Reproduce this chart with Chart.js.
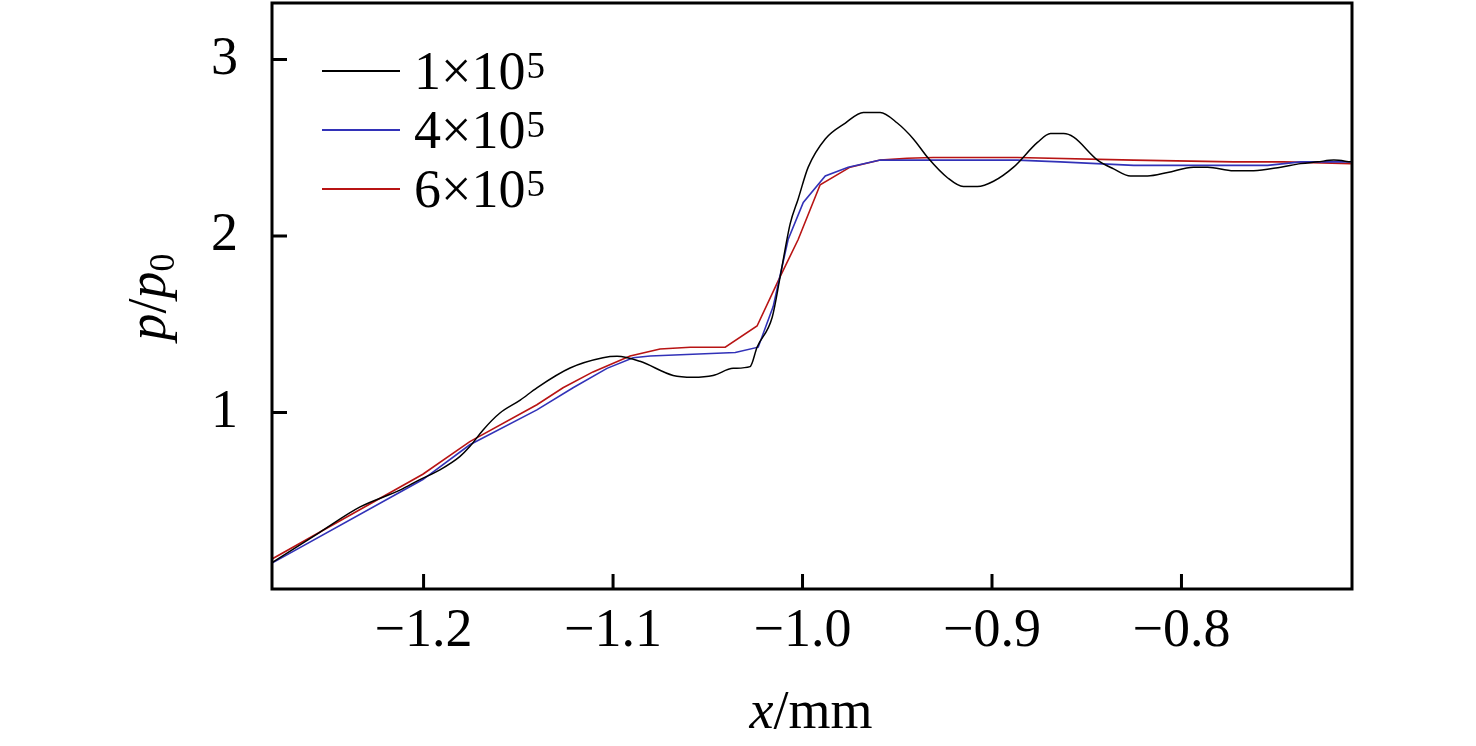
<!DOCTYPE html>
<html>
<head>
<meta charset="utf-8">
<script src="https://cdn.jsdelivr.net/npm/chart.js@4/dist/chart.umd.min.js"></script>
<style>
  html, body { margin: 0; padding: 0; background: #fff; }
  canvas { display: block; }
</style>
</head>
<body>
<canvas id="chart" width="1476" height="746"></canvas>
<script>
// ================================================
// PRESSURE PROFILE p/p0 vs x - three grid sizes
// ================================================

// series 1x10^5 (black)
const blackX = [-1.28, -1.255, -1.2335, -1.2125, -1.2022, -1.1914, -1.1809, -1.1756, -1.1687, -1.1597,
    -1.149, -1.1402, -1.1227, -1.1053,
    -1.0979, -1.0858, -1.0683, -1.0578, -1.0472, -1.0366, -1.0277, -1.0240, -1.0160, -1.0118,
    -1.0065, -1.0023, -0.9970, -0.9880, -0.9774, -0.9679, -0.9590, -0.9500, -0.9415, -0.9336,
    -0.9235, -0.9151, -0.9077, -0.8992, -0.8886, -0.8760, -0.8691, -0.8622, -0.8569, -0.8443,
    -0.8358, -0.8269, -0.8179, -0.8073, -0.7936, -0.7862, -0.7725, -0.7619, -0.7476, -0.7371,
    -0.7281, -0.7196, -0.7106];
const blackY = [0.15, 0.32, 0.465, 0.56, 0.618, 0.675, 0.75, 0.807, 0.90, 0.997,
    1.07, 1.14, 1.252, 1.31,
    1.318, 1.29, 1.21, 1.20, 1.21, 1.25, 1.26, 1.37, 1.54, 1.77,
    2.07, 2.21, 2.39, 2.55, 2.64, 2.70, 2.70, 2.64, 2.55, 2.44,
    2.33, 2.28, 2.28, 2.31, 2.39, 2.53, 2.58, 2.58, 2.56, 2.43,
    2.38, 2.34, 2.34, 2.36, 2.39, 2.39, 2.37, 2.37, 2.39, 2.41,
    2.42, 2.43, 2.42];

// series 4x10^5 (blue)
const blueX = [-1.28, -1.2004, -1.1756, -1.1402, -1.1211, -1.1032, -1.0894, -1.0804, -1.0355, -1.0234,
    -1.0155, -1.0076, -0.9996, -0.9880, -0.9759, -0.9590, -0.9448, -0.8867, -0.8640, -0.8252,
    -0.7545, -0.7371, -0.7106];
const blueY = [0.147, 0.62, 0.817, 1.015, 1.14, 1.25, 1.31, 1.32, 1.34, 1.37,
    1.60, 1.98, 2.19, 2.34, 2.39, 2.43, 2.43, 2.43, 2.42, 2.40,
    2.40, 2.42, 2.42];

// series 6x10^5 (red)
const redX = [-1.28, -1.2004, -1.1756, -1.1402, -1.1264, -1.1106, -1.0910, -1.0752, -1.0593, -1.0408,
    -1.0240, -1.0118, -1.0023, -0.9907, -0.9749, -0.9590, -0.9448, -0.9310, -0.8867, -0.8252,
    -0.7725, -0.7461, -0.7106];
const redY = [0.17, 0.65, 0.835, 1.044, 1.14, 1.23, 1.32, 1.36, 1.37, 1.37,
    1.49, 1.77, 1.98, 2.29, 2.39, 2.43, 2.44, 2.445, 2.445, 2.43,
    2.42, 2.42, 2.41];

// legend text: base + superscript exponent
const legendBase = ['1\u00d710', '4\u00d710', '6\u00d710'];
const legendExp = ['5', '5', '5'];

// tick values
const xTicks = [-1.2, -1.1, -1.0, -0.9, -0.8];
const yTicks = [1, 2, 3];

const SERIF = "'Liberation Serif', 'DejaVu Serif', serif";

function toPoints(xs, ys) {
    return xs.map((x, i) => ({ x: x, y: ys[i] }));
}

function minusLabel(v) {
    return (v < 0 ? '\u2212' : '') + Math.abs(v).toFixed(1);
}

/**
 * DRAW MIXED-STYLE TEXT (italic / subscript / superscript), centred
 */
function drawRich(ctx, parts, x, y) {
    let total = 0;
    parts.forEach(p => {
        ctx.font = p.font;
        p.w = ctx.measureText(p.t).width;
        total += p.w;
    });
    let cx = x - total / 2;
    ctx.textAlign = 'left';
    ctx.textBaseline = 'alphabetic';
    parts.forEach(p => {
        ctx.font = p.font;
        ctx.fillText(p.t, cx, y + (p.dy || 0));
        cx += p.w;
    });
}

const framePlugin = {
    id: 'frame',
    afterDraw(chart) {
        const ctx = chart.ctx;
        const area = chart.chartArea;
        const xs = chart.scales.x;
        const ys = chart.scales.y;
        ctx.save();
        ctx.strokeStyle = '#000';
        ctx.lineWidth = 3;
        ctx.strokeRect(area.left, area.top, area.right - area.left, area.bottom - area.top);

        // inward tick marks
        ctx.beginPath();
        xs.ticks.forEach(t => {
            const px = xs.getPixelForValue(t.value);
            ctx.moveTo(px, area.bottom);
            ctx.lineTo(px, area.bottom - 15);
        });
        ys.ticks.forEach(t => {
            const py = ys.getPixelForValue(t.value);
            ctx.moveTo(area.left, py);
            ctx.lineTo(area.left + 15, py);
        });
        ctx.stroke();

        // legend
        ctx.fillStyle = '#000';
        chart.data.datasets.forEach((ds, i) => {
            const ly = 71 + i * 59;
            ctx.strokeStyle = ds.borderColor;
            ctx.lineWidth = 2;
            ctx.beginPath();
            ctx.moveTo(322, ly);
            ctx.lineTo(400, ly);
            ctx.stroke();
            ctx.textAlign = 'left';
            ctx.textBaseline = 'alphabetic';
            ctx.font = '54px ' + SERIF;
            ctx.fillText(legendBase[i], 414, ly + 18);
            const w = ctx.measureText(legendBase[i]).width;
            ctx.font = '37px ' + SERIF;
            ctx.fillText(legendExp[i], 414 + w + 1, ly + 7);
        });

        // axis titles
        drawRich(ctx, [
            { t: 'x', font: 'italic 54px ' + SERIF },
            { t: '/mm', font: '54px ' + SERIF }
        ], (area.left + area.right) / 2 - 1, 728);

        ctx.save();
        ctx.translate(165, 297);
        ctx.rotate(-Math.PI / 2);
        drawRich(ctx, [
            { t: 'p', font: 'italic 54px ' + SERIF },
            { t: '/', font: '54px ' + SERIF },
            { t: 'p', font: 'italic 54px ' + SERIF },
            { t: '0', font: '36px ' + SERIF, dy: 9 }
        ], 0, 0);
        ctx.restore();
        ctx.restore();
    }
};

function initChart() {
    const ctx = document.getElementById('chart').getContext('2d');

    new Chart(ctx, {
        type: 'line',
        data: {
            datasets: [{
                label: legendBase[0] + legendExp[0],
                data: toPoints(blackX, blackY),
                borderColor: '#000000',
                borderWidth: 1.5,
                pointRadius: 0,
                cubicInterpolationMode: 'monotone'
            }, {
                label: legendBase[1] + legendExp[1],
                data: toPoints(blueX, blueY),
                borderColor: '#3232b8',
                borderWidth: 1.6,
                pointRadius: 0,
                tension: 0
            }, {
                label: legendBase[2] + legendExp[2],
                data: toPoints(redX, redY),
                borderColor: '#b81414',
                borderWidth: 1.6,
                pointRadius: 0,
                tension: 0
            }]
        },
        options: {
            responsive: false,
            devicePixelRatio: 1,
            animation: false,
            layout: {
                padding: { top: 3, right: 124, left: 0, bottom: 0 }
            },
            plugins: {
                legend: { display: false },
                tooltip: { enabled: false }
            },
            scales: {
                x: {
                    type: 'linear',
                    min: -1.28,
                    max: -0.71,
                    afterBuildTicks: scale => {
                        scale.ticks = xTicks.map(v => ({ value: v }));
                    },
                    afterFit: scale => {
                        scale.height = 157;
                        scale.paddingLeft = 0;
                        scale.paddingRight = 0;
                    },
                    grid: { display: false },
                    border: { display: false },
                    ticks: {
                        color: '#000',
                        padding: 2,
                        maxRotation: 0,
                        font: { family: SERIF, size: 54 },
                        callback: v => minusLabel(v)
                    }
                },
                y: {
                    type: 'linear',
                    min: 0,
                    max: 3.32,
                    afterBuildTicks: scale => {
                        scale.ticks = yTicks.map(v => ({ value: v }));
                    },
                    afterFit: scale => {
                        scale.width = 272;
                        scale.paddingTop = 0;
                        scale.paddingBottom = 0;
                    },
                    grid: { display: false },
                    border: { display: false },
                    ticks: {
                        color: '#000',
                        padding: 26,
                        font: { family: SERIF, size: 54 },
                        callback: v => String(v)
                    }
                }
            }
        },
        plugins: [framePlugin]
    });
}

document.addEventListener('DOMContentLoaded', initChart);
</script>
</body>
</html>
